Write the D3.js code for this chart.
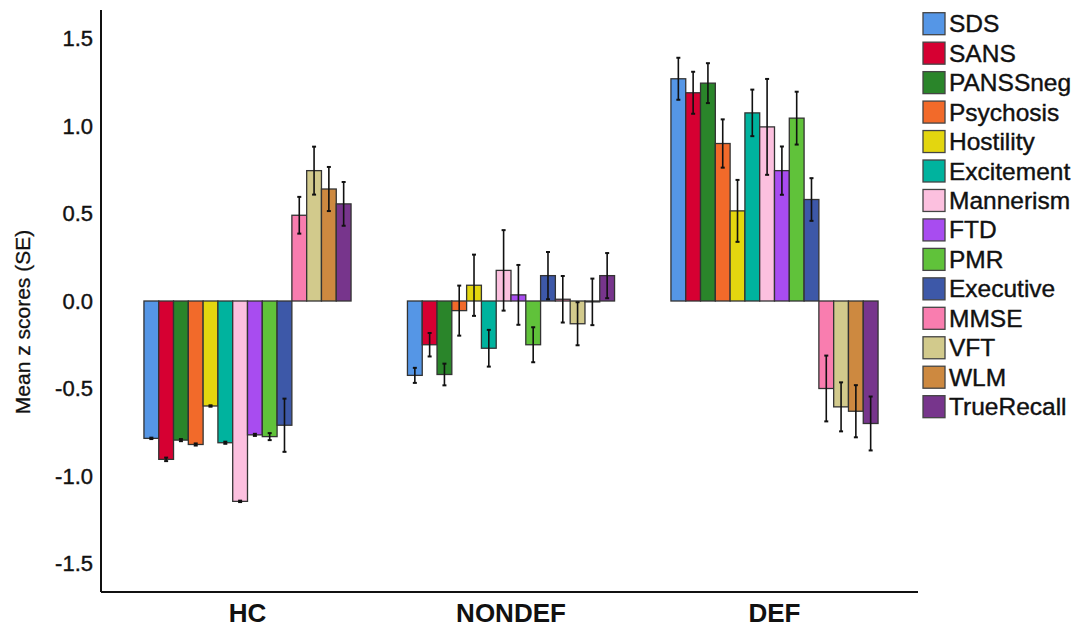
<!DOCTYPE html>
<html>
<head>
<meta charset="utf-8">
<script src="https://cdn.jsdelivr.net/npm/d3@7"></script>
<style>
  body { margin: 0; background: #fff; }
  svg { display: block; font-family: "Liberation Sans", Arial, sans-serif; }
</style>
</head>
<body>
<svg id="chart"></svg>
<script>
// groups on the x axis
const groups = ["HC", "NONDEF", "DEF"];

// measures (legend order)
const measures = ["SDS", "SANS", "PANSSneg", "Psychosis", "Hostility", "Excitement",
  "Mannerism", "FTD", "PMR", "Executive", "MMSE", "VFT", "WLM", "TrueRecall"];

const colors = ["#5596e6", "#d60032", "#2a852a", "#f26a2a", "#e3d60f", "#00b39e",
  "#fcc0df", "#a84cf0", "#60c23a", "#3d58a8", "#f97daf", "#d2ca8c", "#cd8940", "#77358c"];

// mean z scores, per group, in measure order
const meanHC = [-0.785, -0.905, -0.795, -0.82, -0.60, -0.81, -1.145, -0.765, -0.775, -0.71, 0.49, 0.745, 0.64, 0.555];
const meanNONDEF = [-0.425, -0.25, -0.42, -0.055, 0.09, -0.27, 0.175, 0.035, -0.25, 0.145, 0.01, -0.13, -0.005, 0.145];
const meanDEF = [1.27, 1.19, 1.245, 0.90, 0.515, 1.075, 0.995, 0.745, 1.045, 0.58, -0.50, -0.605, -0.63, -0.70];

// standard errors
const seHC = [0.004, 0.01, 0.006, 0.006, 0.004, 0.006, 0.004, 0.006, 0.02, 0.152, 0.105, 0.137, 0.126, 0.125];
const seNONDEF = [0.043, 0.067, 0.062, 0.143, 0.175, 0.105, 0.23, 0.171, 0.10, 0.135, 0.133, 0.123, 0.133, 0.129];
const seDEF = [0.12, 0.12, 0.114, 0.138, 0.177, 0.133, 0.274, 0.138, 0.151, 0.122, 0.188, 0.14, 0.149, 0.154];

const yTicks = [-1.5, -1.0, -0.5, 0.0, 0.5, 1.0, 1.5];

const means = {HC: meanHC, NONDEF: meanNONDEF, DEF: meanDEF};
const ses = {HC: seHC, NONDEF: seNONDEF, DEF: seDEF};
const data = groups.flatMap(g => measures.map((m, i) => ({group: g, measure: m, mean: means[g][i], se: ses[g][i]})));

const width = 1076, height = 632;
const axisLeft = 101, axisRight = 918, plotTop = 10, plotBottom = 592;

const svg = d3.select("#chart")
    .attr("width", width)
    .attr("height", height)
    .attr("viewBox", [0, 0, width, height]);

const y = d3.scaleLinear()
    .domain([-1.663, 1.663])
    .range([plotBottom, plotTop]);

const x0 = d3.scaleBand()
    .domain(groups)
    .range([115.75, 906.25])
    .paddingInner(0.214)
    .paddingOuter(0.107);

const x1 = d3.scaleBand()
    .domain(measures)
    .range([0, x0.bandwidth()]);

const color = d3.scaleOrdinal(measures, colors);

// bars
const bars = svg.append("g")
  .selectAll("g")
  .data(data)
  .join("g")
    .attr("transform", d => `translate(${x0(d.group) + x1(d.measure)},0)`);

bars.append("rect")
    .attr("x", 0)
    .attr("width", x1.bandwidth())
    .attr("y", d => y(Math.max(0, d.mean)))
    .attr("height", d => Math.abs(y(d.mean) - y(0)))
    .attr("fill", d => color(d.measure))
    .attr("stroke", "#333")
    .attr("stroke-width", 1.3);

// error bars
const cx = x1.bandwidth() / 2;
bars.append("line")
    .attr("x1", cx).attr("x2", cx)
    .attr("y1", d => y(d.mean - d.se))
    .attr("y2", d => y(d.mean + d.se))
    .attr("stroke", "#111")
    .attr("stroke-width", 1.6);

bars.selectAll("line.cap")
  .data(d => [d.mean - d.se, d.mean + d.se])
  .join("line")
    .attr("class", "cap")
    .attr("x1", cx - 2).attr("x2", cx + 2)
    .attr("y1", v => y(v)).attr("y2", v => y(v))
    .attr("stroke", "#111")
    .attr("stroke-width", 2);

// y axis
const yAxis = d3.axisLeft(y)
    .tickValues(yTicks)
    .tickFormat(d => d.toFixed(1))
    .tickSize(0)
    .tickPadding(8);

svg.append("g")
    .attr("transform", `translate(${axisLeft},0)`)
    .call(yAxis)
    .call(g => g.select(".domain").remove())
    .call(g => g.selectAll("text")
        .attr("font-size", 22)
        .attr("font-family", "Liberation Sans, Arial, sans-serif")
        .attr("fill", "#111")
        .attr("stroke", "#111")
        .attr("stroke-width", 0.4));

svg.append("line")
    .attr("x1", axisLeft).attr("x2", axisLeft)
    .attr("y1", plotTop).attr("y2", plotBottom)
    .attr("stroke", "#111").attr("stroke-width", 2);

// x axis
const xAxis = d3.axisBottom(x0).tickSize(0).tickPadding(12);

svg.append("g")
    .attr("transform", `translate(0,${plotBottom})`)
    .call(xAxis)
    .call(g => g.select(".domain").remove())
    .call(g => g.selectAll("text")
        .attr("font-size", 26)
        .attr("font-weight", "bold")
        .attr("font-family", "Liberation Sans, Arial, sans-serif")
        .attr("fill", "#111"));

svg.append("line")
    .attr("x1", axisLeft).attr("x2", axisRight)
    .attr("y1", plotBottom).attr("y2", plotBottom)
    .attr("stroke", "#111").attr("stroke-width", 2);

// y axis title
svg.append("text")
    .attr("transform", `translate(30,${y(-0.12)}) rotate(-90)`)
    .attr("text-anchor", "middle")
    .attr("font-size", 21)
    .attr("fill", "#111")
    .attr("stroke", "#111")
    .attr("stroke-width", 0.3)
    .text("Mean z scores (SE)");

// legend
const legend = svg.append("g")
  .selectAll("g")
  .data(measures)
  .join("g")
    .attr("transform", (d, i) => `translate(923,${12.7 + i * 29.46})`);

legend.append("rect")
    .attr("width", 22)
    .attr("height", 22)
    .attr("fill", d => color(d))
    .attr("stroke", "#444")
    .attr("stroke-width", 1.3);

legend.append("text")
    .attr("x", 26)
    .attr("y", 11)
    .attr("dy", "0.35em")
    .attr("font-size", 24.5)
    .attr("fill", "#111")
    .attr("stroke", "#111")
    .attr("stroke-width", 0.4)
    .text(d => d);
</script>
</body>
</html>
